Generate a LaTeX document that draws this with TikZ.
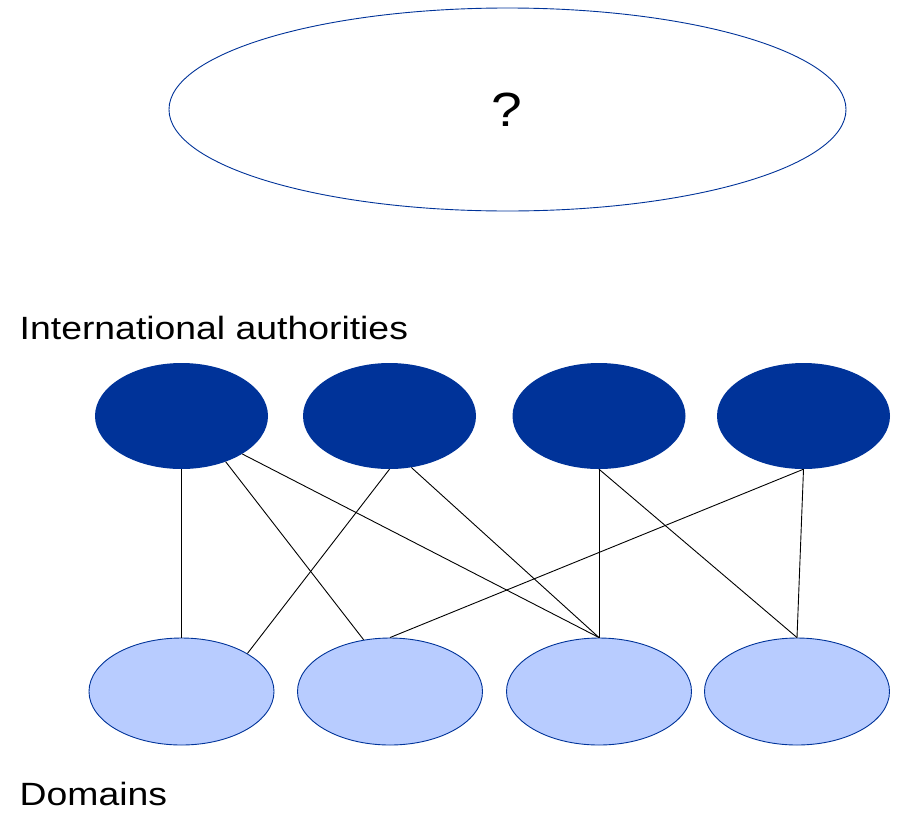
\documentclass[tikz,border=0pt]{standalone}
\usepackage{fontspec}
\setmainfont{Liberation Sans}
\usetikzlibrary{shapes.geometric}
\definecolor{darkblue}{HTML}{003399}
\definecolor{lightblue}{RGB}{184,204,255}
\tikzset{
  auth/.style={ellipse, fill=darkblue, draw=none, minimum width=173pt, minimum height=106pt, inner sep=0pt},
  dom/.style={ellipse, fill=lightblue, draw=darkblue, line width=0.9pt, minimum width=185pt, minimum height=107pt, inner sep=0pt},
  topell/.style={ellipse, fill=white, draw=darkblue, line width=0.9pt, minimum width=677pt, minimum height=203pt, inner sep=0pt},
  lbl/.style={inner sep=0pt, xscale=1.16, font=\fontsize{32.2}{38}\selectfont},
  conn/.style={black, line width=0.9pt}
}
\begin{document}
\begin{tikzpicture}[x=1pt,y=-1pt]
\useasboundingbox (0,0) rectangle (901,814);
\fill[white] (0,0) rectangle (901,814);
\node[topell] (top) at (507.5,109.5) {};
\node[inner sep=0pt, xscale=1.15, font=\fontsize{48}{56}\selectfont] (q) at (507,109.5) {?};

\node[lbl, anchor=base west] (ia) at (19.5,339) {International authorities};
\node[lbl, anchor=base west] (dm) at (19.5,805) {Domains};

\node[auth] (E1) at (181.5,416) {};
\node[auth] (E2) at (389.5,416) {};
\node[auth] (E3) at (599,416) {};
\node[auth] (E4) at (803.5,416) {};

\node[dom] (L1) at (181.5,691.5) {};
\node[dom] (L2) at (390,691.5) {};
\node[dom] (L3) at (599,691.5) {};
\node[dom] (L4) at (797,691.5) {};

\draw[conn] (E1.south) -- (L1.north);
\draw[conn] (E1.-46) -- (L2.117.6);
\draw[conn] (E1.-32.4) -- (L3.north);
\draw[conn] (E2.south) -- (L1.30);
\draw[conn] (E2.-67.4) -- (L3.north);
\draw[conn] (E3.south) -- (L3.north);
\draw[conn] (E3.south) -- (L4.north);
\draw[conn] (E4.south) -- (L2.north);
\draw[conn] (E4.south) -- (L4.north);
\end{tikzpicture}
\end{document}
